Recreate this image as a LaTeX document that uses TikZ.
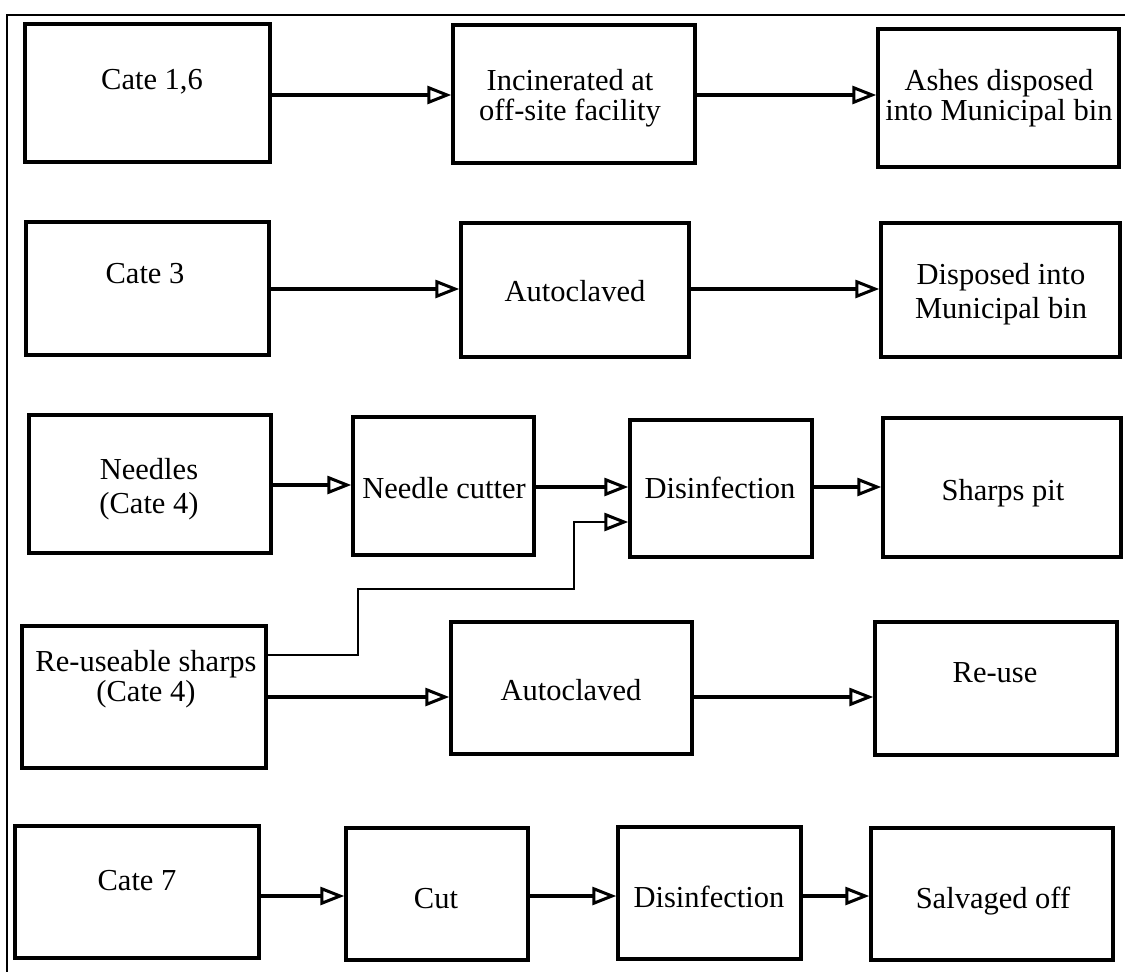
\documentclass[tikz,border=0pt]{standalone}
\usepackage{fontspec}
\setmainfont{Liberation Serif}
\usetikzlibrary{arrows.meta}
\newcommand\mystrut{\rule{0pt}{21.5pt}}
\lineskiplimit=-30pt
\begin{document}
\begin{tikzpicture}[x=1pt,y=-1pt,
  box/.style={draw, line width=3.4pt, inner sep=0pt, rectangle},
  txt/.style={inner sep=0pt, anchor=north, align=center,
    font=\fontsize{30.5}{30}\selectfont},
  bsA/.style={font=\fontsize{30.5}{34}\selectfont},
  bsB/.style={font=\fontsize{30.5}{30}\selectfont},
  arr/.style={line width=3.5pt, -{Triangle[open, length=24pt, width=18pt, line width=3pt]}},
  thinarr/.style={line width=2.6pt, -{Triangle[open, length=24pt, width=18pt, line width=3pt]}},
  frame/.style={line width=2pt}
  ]
\fill[white] (0,0) rectangle (1125,972);
\useasboundingbox (0,0) rectangle (1125,972);
% frame (cropped)
\draw[frame] (7,972) -- (7,14.5) -- (1125,14.5);

% row 1
\node[box, minimum width=245pt, minimum height=138pt] (a1) at (147.5,93) {};
\node[box, minimum width=242pt, minimum height=138pt] (a2) at (574,94) {};
\node[box, minimum width=241pt, minimum height=138pt] (a3) at (998.5,98) {};
\node[txt] (ta1) at (152,67.5) {\mystrut Cate 1,6};
\node[txt] (ta2) at (570,68.5) {\mystrut Incinerated at\\off-site facility};
\node[txt] (ta3) at (999,68.5) {\mystrut Ashes disposed\\into Municipal bin};

% row 2
\node[box, minimum width=243pt, minimum height=133pt] (b1) at (147.5,288.5) {};
\node[box, minimum width=228pt, minimum height=134pt] (b2) at (575,290) {};
\node[box, minimum width=239pt, minimum height=134pt] (b3) at (1000.5,290) {};
\node[txt] (tb1) at (145,261.5) {\mystrut Cate 3};
\node[txt] (tb2) at (575,279.5) {\mystrut Autoclaved};
\node[txt, bsA] (tb3) at (1001,262.5) {\mystrut Disposed into\\Municipal bin};

% row 3
\node[box, minimum width=242pt, minimum height=138pt] (c1) at (150,484) {};
\node[box, minimum width=181pt, minimum height=138pt] (c2) at (443.5,486) {};
\node[box, minimum width=182pt, minimum height=137pt] (c3) at (721,488.5) {};
\node[box, minimum width=238pt, minimum height=139pt] (c4) at (1002,487.5) {};
\node[txt, bsA] (tc1) at (149,457.5) {\mystrut Needles\\(Cate 4)};
\node[txt] (tc2) at (444,476.5) {\mystrut Needle cutter};
\node[txt] (tc3) at (720,476.5) {\mystrut Disinfection};
\node[txt] (tc4) at (1003,478.5) {\mystrut Sharps pit};

% row 4
\node[box, minimum width=244pt, minimum height=142pt] (d1) at (144,697) {};
\node[box, minimum width=241pt, minimum height=132pt] (d2) at (571.5,688) {};
\node[box, minimum width=242pt, minimum height=133pt] (d3) at (996,688.5) {};
\node[txt, bsB] (td1) at (146,649.5) {\mystrut Re-useable sharps\\(Cate 4)};
\node[txt] (td2) at (571,678.5) {\mystrut Autoclaved};
\node[txt] (td3) at (995,660.5) {\mystrut Re-use};

% row 5
\node[box, minimum width=244pt, minimum height=132pt] (e1) at (137,892) {};
\node[box, minimum width=182pt, minimum height=132pt] (e2) at (437,894) {};
\node[box, minimum width=183pt, minimum height=132pt] (e3) at (709.5,893) {};
\node[box, minimum width=242pt, minimum height=132pt] (e4) at (992,894) {};
\node[txt] (te1) at (137,868.5) {\mystrut Cate 7};
\node[txt] (te2) at (436,886.5) {\mystrut Cut};
\node[txt] (te3) at (709,885.5) {\mystrut Disinfection};
\node[txt] (te4) at (993,886.5) {\mystrut Salvaged off};

% connector levels
\coordinate (ya) at (0,95);
\coordinate (yb) at (0,289);
\coordinate (yc1) at (0,485);
\coordinate (yc2) at (0,487);
\coordinate (yd) at (0,697);
\coordinate (ye) at (0,896);
\coordinate (k1) at (358,655);
\coordinate (k2) at (358,589);
\coordinate (k3) at (574,589);
\coordinate (k4) at (574,522);

% connectors
\draw[arr] (a1.east |- ya) -- (a2.west |- ya);
\draw[arr] (a2.east |- ya) -- (a3.west |- ya);
\draw[arr] (b1.east |- yb) -- (b2.west |- yb);
\draw[arr] (b2.east |- yb) -- (b3.west |- yb);
\draw[arr] (c1.east |- yc1) -- (c2.west |- yc1);
\draw[arr] (c2.east |- yc2) -- (c3.west |- yc2);
\draw[arr] (c3.east |- yc2) -- (c4.west |- yc2);
\draw[thinarr] (d1.east |- k1) -- (k1) -- (k2) -- (k3) -- (k4) -- (c3.west |- k4);
\draw[arr] (d1.east |- yd) -- (d2.west |- yd);
\draw[arr] (d2.east |- yd) -- (d3.west |- yd);
\draw[arr] (e1.east |- ye) -- (e2.west |- ye);
\draw[arr] (e2.east |- ye) -- (e3.west |- ye);
\draw[arr] (e3.east |- ye) -- (e4.west |- ye);
\end{tikzpicture}
\end{document}
